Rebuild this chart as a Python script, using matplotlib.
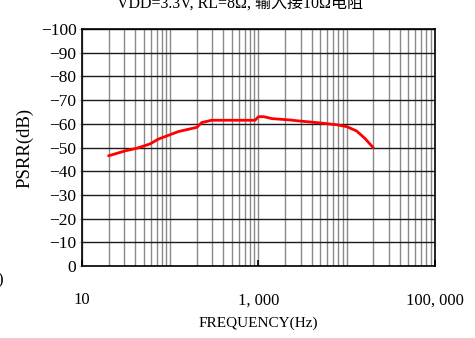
import matplotlib

matplotlib.use("Agg")
import matplotlib.pyplot as plt
from matplotlib.ticker import FixedLocator, LogLocator, NullFormatter

# PSRR curve (Hz, dB)
freq_hz = [20, 31, 42, 59, 73, 123, 200, 227, 294, 600, 913, 1000, 1150,
           1414, 2290, 2700, 4570, 7700, 10000, 12900, 16000, 20000]
psrr_db = [-46.5, -48.6, -49.7, -51.5, -53.5, -56.7, -58.5, -60.5, -61.5,
           -61.5, -61.5, -63.0, -63.0, -62.2, -61.6, -61.3, -60.5, -59.6,
           -58.8, -57.0, -53.9, -49.9]

x_ticks = [10, 1000, 100000]
x_tick_labels = ["10", "1, 000", "100, 000"]
y_ticks = [0, -10, -20, -30, -40, -50, -60, -70, -80, -90, -100]
y_tick_labels = ["0", "−10", "−20", "−30", "−40", "−50", "−60", "−70",
                 "−80", "−90", "−100"]

title = "VDD=3.3V, RL=8Ω, 输入接10Ω电阻"
serif = ["Liberation Serif", "Noto Sans CJK SC", "DejaVu Sans"]

fig = plt.figure(figsize=(4.75, 3.38), dpi=100)
ax = fig.add_axes([0.1726, 0.2130, 0.7432, 0.7012])

ax.set_xscale("log")
ax.set_xlim(10, 100000)
ax.set_ylim(0, -100)

# grid: grey verticals at every minor/major decade step, dark horizontals
ax.xaxis.set_minor_locator(LogLocator(base=10, subs=range(1, 10), numticks=50))
ax.xaxis.set_minor_formatter(NullFormatter())
ax.grid(True, which="both", axis="x", color="#8a8a8a", linewidth=1.0)
ax.grid(True, which="major", axis="y", color="#1a1a1a", linewidth=1.0)
ax.set_axisbelow(True)

ax.plot(freq_hz, psrr_db, color="#ff0000", linewidth=2.0, solid_capstyle="round", zorder=3)

ax.xaxis.set_major_locator(FixedLocator(x_ticks))
ax.set_xticks(x_ticks)
ax.set_xticklabels(x_tick_labels, family=serif, fontsize=12)
ax.set_yticks(y_ticks)
ax.set_yticklabels(y_tick_labels, family=serif, fontsize=12.5)
ax.tick_params(axis="x", which="major", direction="in", length=4, width=1.2, pad=19)
ax.tick_params(axis="x", which="minor", length=0)
ax.tick_params(axis="y", direction="out", length=2, color="#cccccc", pad=2)

for sp in ax.spines.values():
    sp.set_color("black")
    sp.set_linewidth(1.2)

ax.set_xlabel("FREQUENCY(Hz)", family=serif, fontsize=11, labelpad=6)
ax.set_ylabel("PSRR(dB)", family=serif, fontsize=13.5, labelpad=5)

fig.text(0.505, 0.99, title, ha="center", va="center", family=serif, fontsize=11.5)
fig.text(0.0, 0.17, ")", ha="center", va="center", family=serif, fontsize=12)

fig.savefig("out.png", dpi=100)
